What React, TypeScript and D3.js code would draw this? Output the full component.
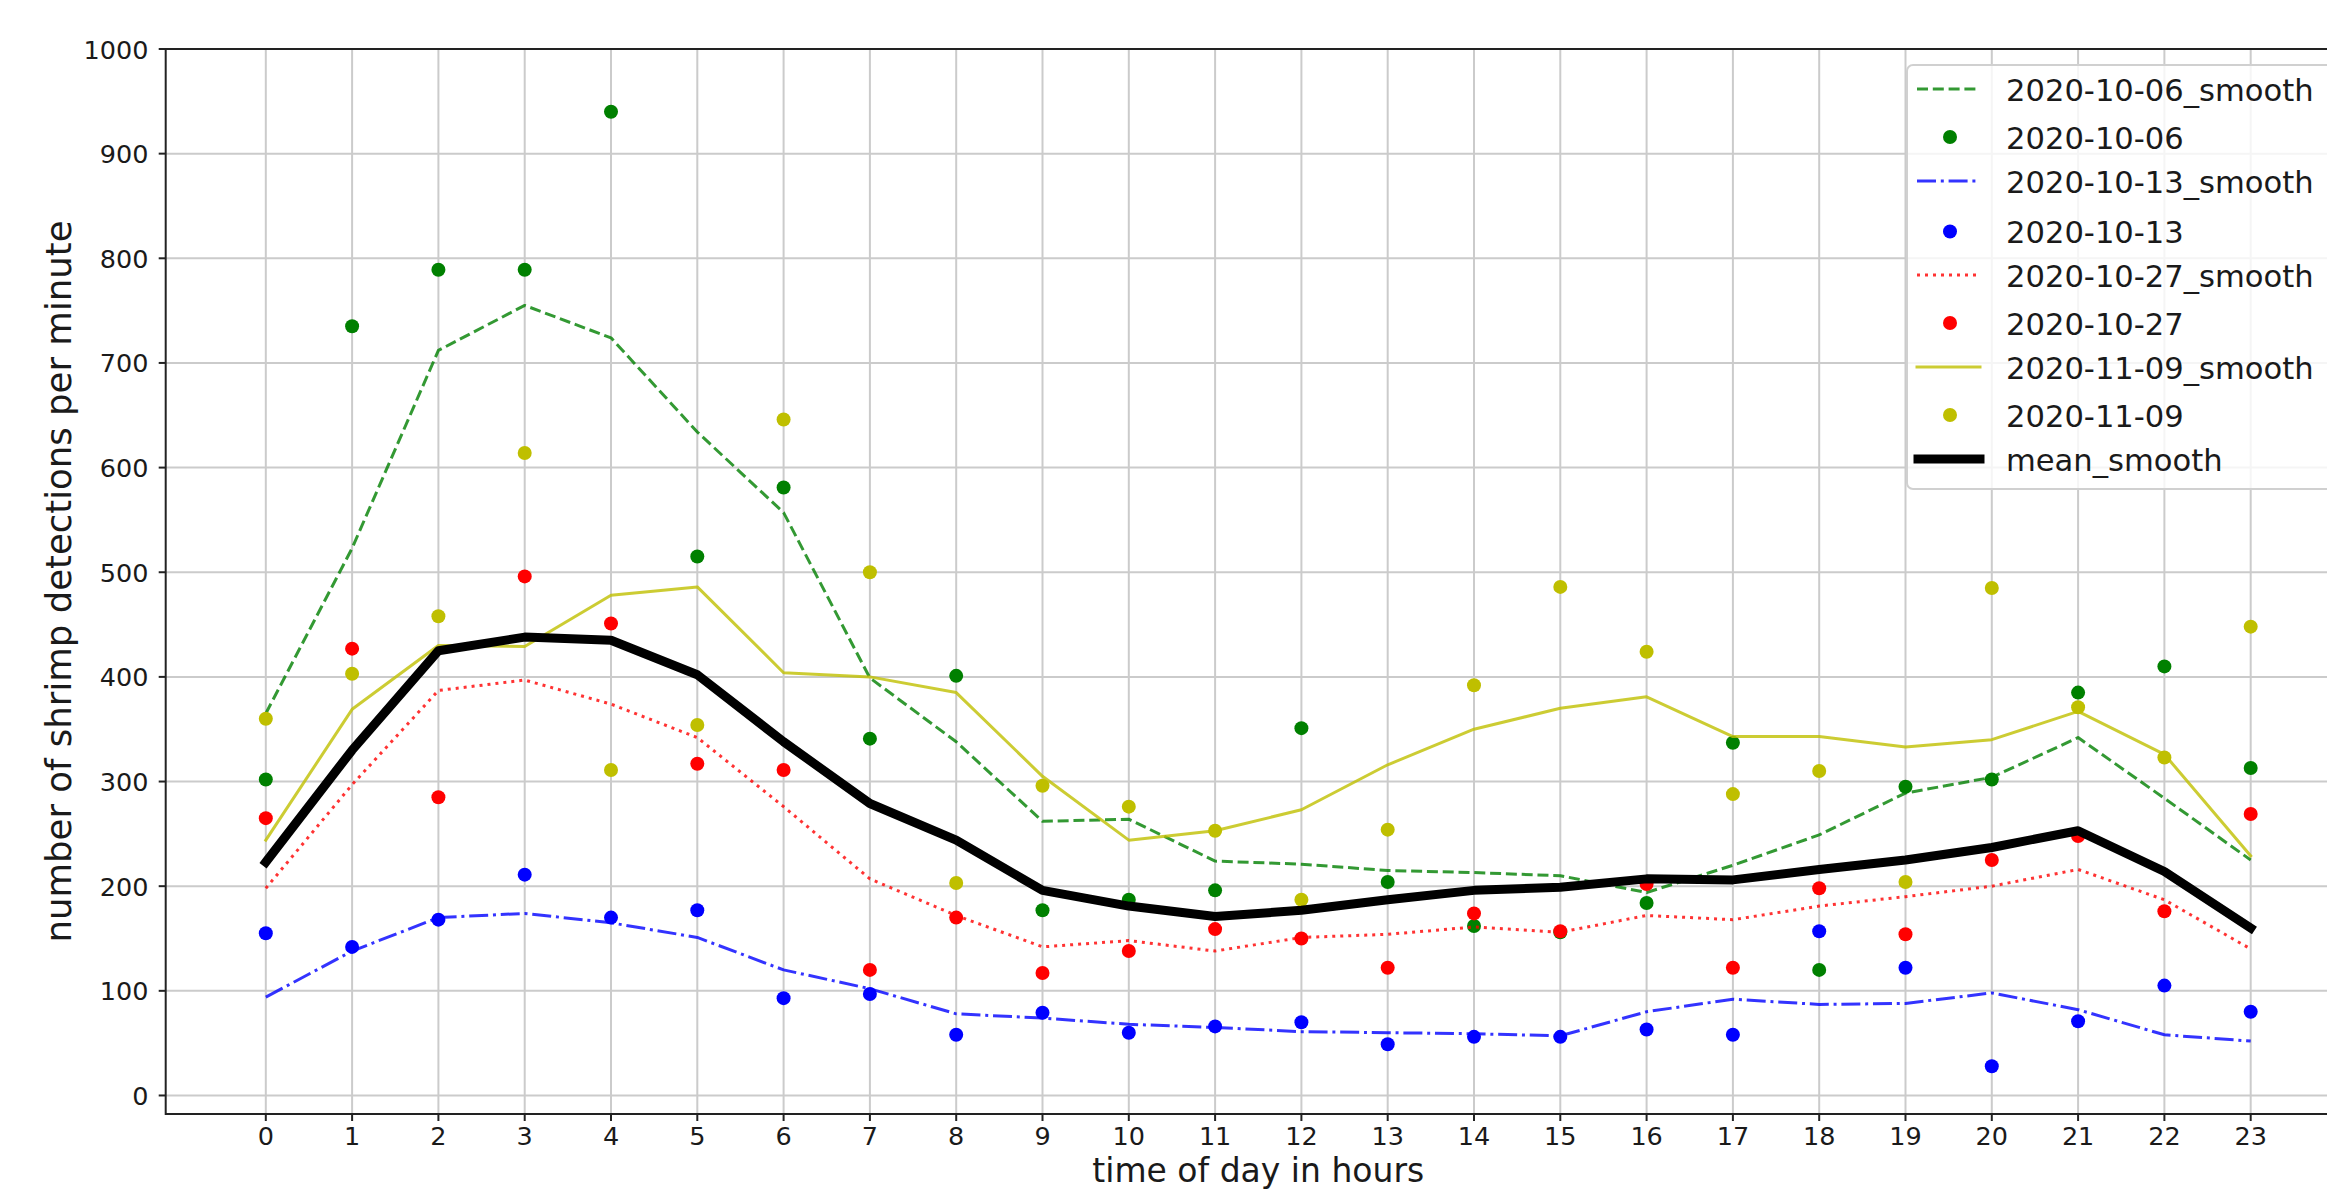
import React from "react";
import * as d3 from "d3";

// 時刻（x軸）と目盛り
const hours = [0, 1, 2, 3, 4, 5, 6, 7, 8, 9, 10, 11, 12, 13, 14, 15, 16, 17, 18, 19, 20, 21, 22, 23];
const yTicks = [0, 100, 200, 300, 400, 500, 600, 700, 800, 900, 1000];

// 2020-10-06
const green = [302, 735, 789, 789, 940, 515, 581, 341, 401, 177, 187, 196, 351, 204, 162, 156, 184, 337, 120, 295, 302, 385, 410, 313];
const greenSmooth = [365, 523, 712, 755, 724, 634, 557, 399, 338, 262, 264, 224, 221, 215, 213, 210, 194, 220, 249, 289, 304, 342, 284, 225];
// 2020-10-13
const blue = [155, 142, 168, 211, 170, 177, 93, 97, 58, 79, 60, 66, 70, 49, 56, 56, 63, 58, 157, 122, 28, 71, 105, 80];
const blueSmooth = [94, 138, 170, 174, 165, 151, 120, 102, 78, 74, 68, 65, 61, 60, 59, 57, 80, 92, 87, 88, 98, 82, 58, 52];
// 2020-10-27
const red = [265, 427, 285, 496, 451, 317, 311, 120, 170, 117, 138, 159, 150, 122, 174, 157, 202, 122, 198, 154, 225, 248, 176, 269];
const redSmooth = [198, 297, 387, 397, 374, 342, 276, 207, 172, 142, 148, 138, 151, 154, 161, 156, 172, 168, 181, 190, 200, 216, 187, 140];
// 2020-11-09
const yellow = [360, 403, 458, 614, 311, 354, 646, 500, 203, 296, 276, 253, 187, 254, 392, 486, 424, 288, 310, 204, 485, 371, 323, 448];
const yellowSmooth = [244, 369, 430, 429, 478, 486, 404, 400, 385, 305, 244, 253, 273, 316, 350, 370, 381, 343, 343, 333, 340, 367, 326, 229];
// 平均
const meanSmooth = [223, 330, 425, 438, 435, 402, 338, 279, 244, 196, 181, 171, 177, 187, 196, 199, 207, 206, 216, 225, 237, 253, 214, 160];

const W = 2327;
const H = 1190;
const left = 165.7;
const right = 2350.8;
const top = 49;
const bottom = 1114;
const font = "DejaVu Sans, sans-serif";

type Series = { name: string; color: string; dots: number[]; smooth: number[]; dash: string };

const series: Series[] = [
  { name: "2020-10-06", color: "#008000", dots: green, smooth: greenSmooth, dash: "11 4.8" },
  { name: "2020-10-13", color: "#0000ff", dots: blue, smooth: blueSmooth, dash: "19 4.8 3 4.8" },
  { name: "2020-10-27", color: "#ff0000", dots: red, smooth: redSmooth, dash: "3 5" },
  { name: "2020-11-09", color: "#bfbf00", dots: yellow, smooth: yellowSmooth, dash: "" },
];

// 凡例の行の中心（y）
const legendRows = [89, 137, 181, 231.5, 275, 323, 367, 415, 459];

export default function App() {
  const x = d3.scaleLinear().domain([-1.16, 24.16]).range([left, right]);
  const y = d3.scaleLinear().domain([-17.7, 1000]).range([bottom, top]);

  const line = d3
    .line<number>()
    .x((_, i) => x(hours[i]))
    .y((d) => y(d));

  const legendItems: { label: string; kind: string; s?: Series }[] = [];
  series.forEach((s) => {
    legendItems.push({ label: s.name + "_smooth", kind: "line", s });
    legendItems.push({ label: s.name, kind: "dot", s });
  });
  legendItems.push({ label: "mean_smooth", kind: "mean" });

  return (
    <svg
      width={W}
      height={H}
      style={{ position: "absolute", left: 0, top: 0, display: "block", background: "#fff" }}
      fontFamily={font}
    >
      <defs>
        <clipPath id="plot">
          <rect x={left} y={top} width={right - left} height={bottom - top} />
        </clipPath>
      </defs>

      {/* グリッド */}
      <g stroke="#cbcbcb" strokeWidth={2}>
        {hours.map((h) => (
          <line key={h} x1={x(h)} x2={x(h)} y1={top} y2={bottom} />
        ))}
        {yTicks.map((t) => (
          <line key={t} x1={left} x2={right} y1={y(t)} y2={y(t)} />
        ))}
      </g>

      {/* データ */}
      <g clipPath="url(#plot)">
        {series.map((s) => (
          <g key={s.name}>
            <path
              d={line(s.smooth) || ""}
              fill="none"
              stroke={s.color}
              strokeOpacity={0.8}
              strokeWidth={3}
              strokeDasharray={s.dash || undefined}
              strokeLinecap={s.dash ? "butt" : "square"}
              strokeLinejoin="round"
            />
            {s.dots.map((v, i) => (
              <circle key={i} cx={x(hours[i])} cy={y(v)} r={7} fill={s.color} />
            ))}
          </g>
        ))}
        <path
          d={line(meanSmooth) || ""}
          fill="none"
          stroke="#000"
          strokeWidth={9}
          strokeLinecap="square"
          strokeLinejoin="round"
        />
      </g>

      {/* 軸 */}
      <g stroke="#222" strokeWidth={2} fill="none">
        <line x1={left} x2={left} y1={top - 1} y2={bottom + 1} />
        <line x1={left} x2={right} y1={top} y2={top} />
        <line x1={left} x2={right} y1={bottom} y2={bottom} />
        <line x1={right} x2={right} y1={top} y2={bottom} />
      </g>
      <g>
        {yTicks.map((t) => (
          <g key={t} transform={`translate(0,${y(t)})`}>
            <line x1={left - 7} x2={left} stroke="#222" strokeWidth={2} />
            <text x={148.5} y={9.5} textAnchor="end" fontSize={25.5} fill="#1a1a1a">
              {t}
            </text>
          </g>
        ))}
        {hours.map((h) => (
          <g key={h} transform={`translate(${x(h)},${bottom})`}>
            <line y1={0} y2={7} stroke="#222" strokeWidth={2} />
            <text y={30.5} textAnchor="middle" fontSize={25.5} fill="#1a1a1a">
              {h}
            </text>
          </g>
        ))}
      </g>
      <text
        transform={`translate(71,${(top + bottom) / 2}) rotate(-90)`}
        textAnchor="middle"
        fontSize={35.5}
        fill="#1a1a1a"
      >
        number of shrimp detections per minute
      </text>
      <text x={(left + right) / 2} y={1182} textAnchor="middle" fontSize={33} fill="#1a1a1a">
        time of day in hours
      </text>

      {/* 凡例 */}
      <g>
        <rect x={1907} y={65} width={440} height={424} rx={6} fill="#fff" fillOpacity={0.8} stroke="#d0d0d0" strokeWidth={2} />
        {legendItems.map((it, i) => (
          <g key={it.label} transform={`translate(0,${legendRows[i]})`}>
            {it.kind === "line" && it.s && (
              <line
                x1={1917}
                x2={1980}
                stroke={it.s.color}
                strokeOpacity={0.8}
                strokeWidth={3}
                strokeDasharray={it.s.dash || undefined}
                strokeLinecap={it.s.dash ? "butt" : "square"}
              />
            )}
            {it.kind === "dot" && it.s && <circle cx={1950} cy={0} r={7} fill={it.s.color} />}
            {it.kind === "mean" && (
              <line x1={1918} x2={1980} stroke="#000" strokeWidth={9} strokeLinecap="square" />
            )}
            <text x={2006} y={11.5} fontSize={30.6} fill="#1a1a1a">
              {it.label}
            </text>
          </g>
        ))}
      </g>
    </svg>
  );
}
